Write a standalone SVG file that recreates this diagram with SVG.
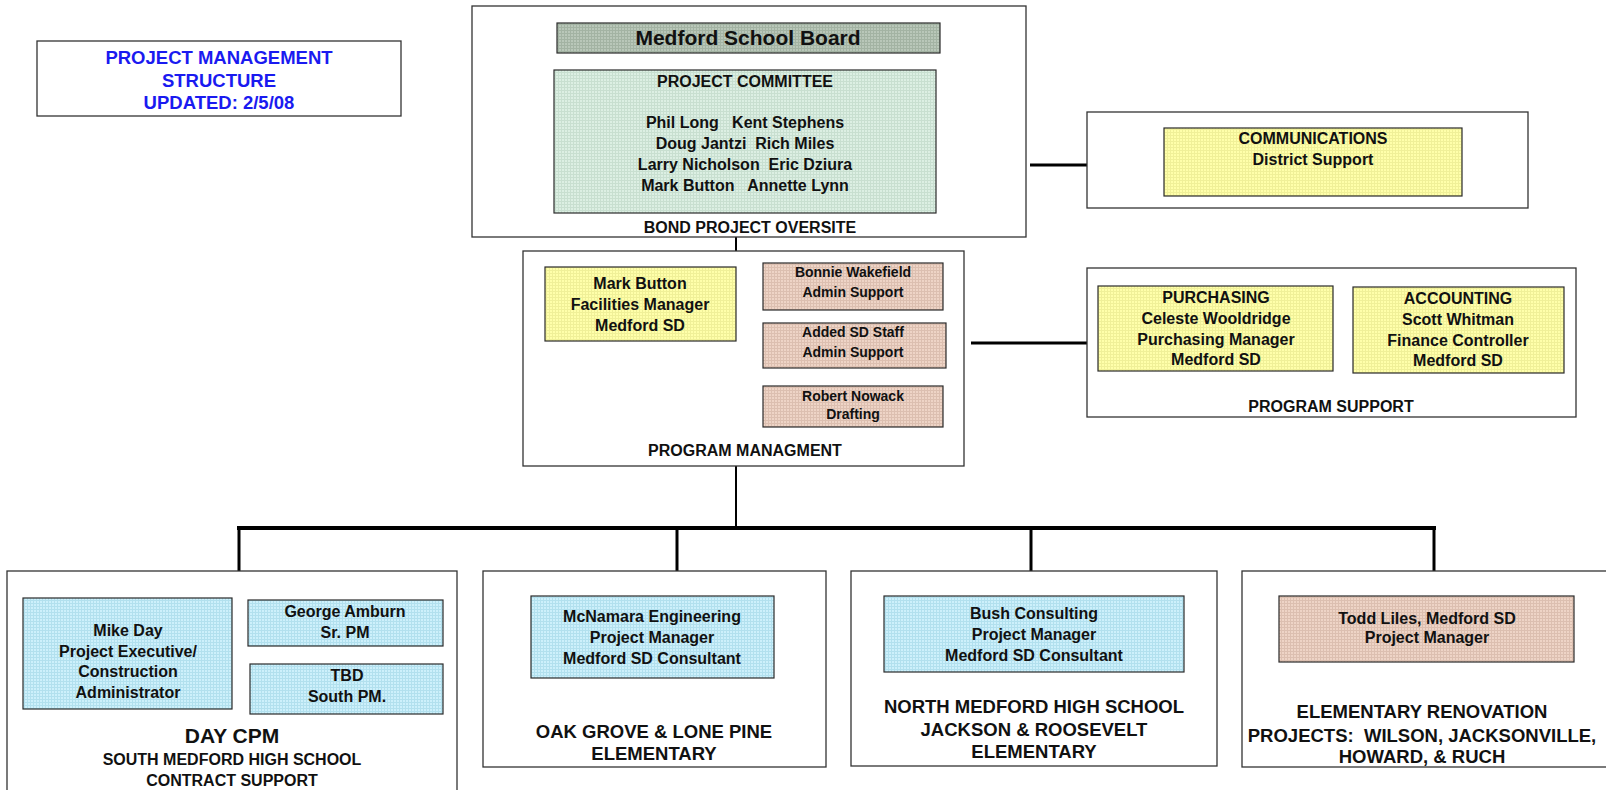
<svg xmlns="http://www.w3.org/2000/svg" width="1606" height="790" viewBox="0 0 1606 790">
<style>
text { font-family: "Liberation Sans", Arial, sans-serif; font-weight: bold; fill: #111; text-anchor: middle; }
.t14 { font-size: 14px; }
.t16 { font-size: 16px; }
.t18 { font-size: 18.5px; }
.t21 { font-size: 21px; }
.blue { fill: #1a1af0; }
.outer { fill: #fff; stroke: #333; stroke-width: 1.3; }
.inner { stroke: #2a2a2a; stroke-width: 1.2; }
.conn { stroke: #000; fill: none; }
</style>
<defs>
<pattern id="pGray" width="3" height="3" patternUnits="userSpaceOnUse"><rect width="3" height="3" fill="#b9c7b9"/><path d="M0 0.5H3M0.5 0V3" stroke="#a3b3a3" stroke-width="1"/></pattern>
<pattern id="pGreen" width="3" height="3" patternUnits="userSpaceOnUse"><rect width="3" height="3" fill="#dcefe3"/><path d="M0 0.5H3M0.5 0V3" stroke="#c8dfd0" stroke-width="1"/></pattern>
<pattern id="pYellow" width="3" height="3" patternUnits="userSpaceOnUse"><rect width="3" height="3" fill="#ffffaa"/><path d="M0 0.5H3M0.5 0V3" stroke="#f0f098" stroke-width="1"/></pattern>
<pattern id="pTan" width="3" height="3" patternUnits="userSpaceOnUse"><rect width="3" height="3" fill="#eed4c6"/><path d="M0 0.5H3M0.5 0V3" stroke="#dcbfb0" stroke-width="1"/></pattern>
<pattern id="pBlue" width="3" height="3" patternUnits="userSpaceOnUse"><rect width="3" height="3" fill="#cdf0fb"/><path d="M0 0.5H3M0.5 0V3" stroke="#b2e0ee" stroke-width="1"/></pattern>
</defs>
<rect width="1606" height="790" fill="#fff"/>

<g id="connectors">
<line class="conn" x1="736" y1="237" x2="736" y2="251" stroke-width="2"/>
<line class="conn" x1="736" y1="466" x2="736" y2="528" stroke-width="2"/>
<line class="conn" x1="237" y1="528" x2="1436" y2="528" stroke-width="4"/>
<line class="conn" x1="239" y1="528" x2="239" y2="571" stroke-width="3"/>
<line class="conn" x1="677" y1="528" x2="677" y2="571" stroke-width="3"/>
<line class="conn" x1="1031" y1="528" x2="1031" y2="571" stroke-width="3"/>
<line class="conn" x1="1434" y1="528" x2="1434" y2="571" stroke-width="3"/>
<line class="conn" x1="1030" y1="165" x2="1087" y2="165" stroke-width="3"/>
<line class="conn" x1="971" y1="343" x2="1087" y2="343" stroke-width="3"/>
</g>

<g id="title">
<rect class="outer" x="37" y="41" width="364" height="75"/>
<text class="t18 blue" x="219" y="63.5">PROJECT MANAGEMENT</text>
<text class="t18 blue" x="219" y="86.5">STRUCTURE</text>
<text class="t18 blue" x="219" y="108.5">UPDATED: 2/5/08</text>
</g>

<g id="bond-oversite">
<rect class="outer" x="472" y="6" width="554" height="231"/>
<text class="t16" x="750" y="233">BOND PROJECT OVERSITE</text>
</g>
<g id="school-board">
<rect class="inner" x="557" y="23" width="383" height="30" fill="url(#pGray)"/>
<text class="t21" x="748" y="45">Medford School Board</text>
</g>
<g id="project-committee">
<rect class="inner" x="554" y="70" width="382" height="143" fill="url(#pGreen)"/>
<text class="t16" x="745" y="87">PROJECT COMMITTEE</text>
<text class="t16" x="745" y="128" xml:space="preserve">Phil Long   Kent Stephens</text>
<text class="t16" x="745" y="149" xml:space="preserve">Doug Jantzi  Rich Miles</text>
<text class="t16" x="745" y="170" xml:space="preserve">Larry Nicholson  Eric Dziura</text>
<text class="t16" x="745" y="191" xml:space="preserve">Mark Button   Annette Lynn</text>
</g>

<g id="communications-group">
<rect class="outer" x="1087" y="112" width="441" height="96"/>
</g>
<g id="communications">
<rect class="inner" x="1164" y="128" width="298" height="68" fill="url(#pYellow)"/>
<text class="t16" x="1313" y="144">COMMUNICATIONS</text>
<text class="t16" x="1313" y="165">District Support</text>
</g>

<g id="program-management">
<rect class="outer" x="523" y="251" width="441" height="215"/>
<text class="t16" x="745" y="456">PROGRAM MANAGMENT</text>
</g>
<g id="mark-button">
<rect class="inner" x="545" y="267" width="191" height="74" fill="url(#pYellow)"/>
<text class="t16" x="640" y="289">Mark Button</text>
<text class="t16" x="640" y="310">Facilities Manager</text>
<text class="t16" x="640" y="331">Medford SD</text>
</g>
<g id="bonnie-wakefield">
<rect class="inner" x="763" y="263" width="180" height="47" fill="url(#pTan)"/>
<text class="t14" x="853" y="277">Bonnie Wakefield</text>
<text class="t14" x="853" y="297">Admin Support</text>
</g>
<g id="added-sd-staff">
<rect class="inner" x="763" y="323" width="183" height="45" fill="url(#pTan)"/>
<text class="t14" x="853" y="337">Added SD Staff</text>
<text class="t14" x="853" y="357">Admin Support</text>
</g>
<g id="robert-nowack">
<rect class="inner" x="763" y="386" width="180" height="41" fill="url(#pTan)"/>
<text class="t14" x="853" y="401">Robert Nowack</text>
<text class="t14" x="853" y="419">Drafting</text>
</g>

<g id="program-support">
<rect class="outer" x="1087" y="268" width="489" height="149"/>
<text class="t16" x="1331" y="412">PROGRAM SUPPORT</text>
</g>
<g id="purchasing">
<rect class="inner" x="1098" y="286" width="235" height="85" fill="url(#pYellow)"/>
<text class="t16" x="1216" y="303">PURCHASING</text>
<text class="t16" x="1216" y="324">Celeste Wooldridge</text>
<text class="t16" x="1216" y="345">Purchasing Manager</text>
<text class="t16" x="1216" y="365">Medford SD</text>
</g>
<g id="accounting">
<rect class="inner" x="1353" y="287" width="211" height="86" fill="url(#pYellow)"/>
<text class="t16" x="1458" y="304">ACCOUNTING</text>
<text class="t16" x="1458" y="325">Scott Whitman</text>
<text class="t16" x="1458" y="346">Finance Controller</text>
<text class="t16" x="1458" y="366">Medford SD</text>
</g>

<g id="day-cpm">
<rect class="outer" x="7" y="571" width="450" height="240"/>
<text class="t21" x="232" y="743">DAY CPM</text>
<text class="t16" x="232" y="765">SOUTH MEDFORD HIGH SCHOOL</text>
<text class="t16" x="232" y="786">CONTRACT SUPPORT</text>
</g>
<g id="mike-day">
<rect class="inner" x="23" y="598" width="209" height="111" fill="url(#pBlue)"/>
<text class="t16" x="128" y="636">Mike Day</text>
<text class="t16" x="128" y="657">Project Executive/</text>
<text class="t16" x="128" y="677">Construction</text>
<text class="t16" x="128" y="698">Administrator</text>
</g>
<g id="george-amburn">
<rect class="inner" x="248" y="600" width="195" height="46" fill="url(#pBlue)"/>
<text class="t16" x="345" y="617">George Amburn</text>
<text class="t16" x="345" y="638">Sr. PM</text>
</g>
<g id="tbd">
<rect class="inner" x="250" y="664" width="193" height="50" fill="url(#pBlue)"/>
<text class="t16" x="347" y="681">TBD</text>
<text class="t16" x="347" y="702">South PM.</text>
</g>

<g id="oak-grove">
<rect class="outer" x="483" y="571" width="343" height="196"/>
<text class="t18" x="654" y="738">OAK GROVE &amp; LONE PINE</text>
<text class="t18" x="654" y="760">ELEMENTARY</text>
</g>
<g id="mcnamara">
<rect class="inner" x="531" y="596" width="243" height="82" fill="url(#pBlue)"/>
<text class="t16" x="652" y="622">McNamara Engineering</text>
<text class="t16" x="652" y="643">Project Manager</text>
<text class="t16" x="652" y="664">Medford SD Consultant</text>
</g>

<g id="north-medford">
<rect class="outer" x="851" y="571" width="366" height="195"/>
<text class="t18" x="1034" y="713">NORTH MEDFORD HIGH SCHOOL</text>
<text class="t18" x="1034" y="736">JACKSON &amp; ROOSEVELT</text>
<text class="t18" x="1034" y="758">ELEMENTARY</text>
</g>
<g id="bush-consulting">
<rect class="inner" x="884" y="596" width="300" height="76" fill="url(#pBlue)"/>
<text class="t16" x="1034" y="619">Bush Consulting</text>
<text class="t16" x="1034" y="640">Project Manager</text>
<text class="t16" x="1034" y="661">Medford SD Consultant</text>
</g>

<g id="elementary-renovation">
<rect class="outer" x="1242" y="571" width="400" height="196"/>
<text class="t18" x="1422" y="718">ELEMENTARY RENOVATION</text>
<text class="t18" x="1422" y="742" xml:space="preserve">PROJECTS:  WILSON, JACKSONVILLE,</text>
<text class="t18" x="1422" y="763">HOWARD, &amp; RUCH</text>
</g>
<g id="todd-liles">
<rect class="inner" x="1279" y="596" width="295" height="66" fill="url(#pTan)"/>
<text class="t16" x="1427" y="624">Todd Liles, Medford SD</text>
<text class="t16" x="1427" y="643">Project Manager</text>
</g>
</svg>
